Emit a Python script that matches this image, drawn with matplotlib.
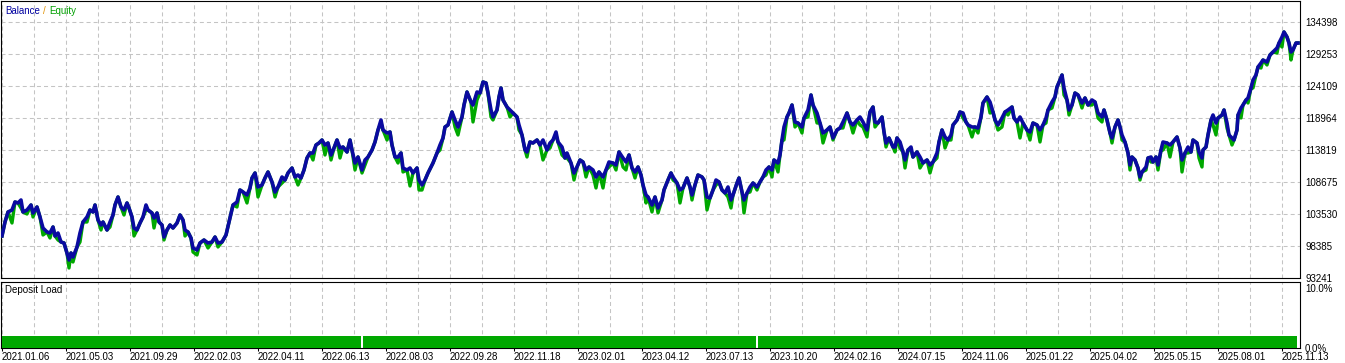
import numpy as np
import matplotlib.pyplot as plt

plt.rcParams['font.family'] = ['Liberation Sans', 'DejaVu Sans']
plt.rcParams['lines.scale_dashes'] = False

# deal number (x axis of the tester graph) and balance after each deal
deals = [
    0, 3, 6, 10, 13, 16, 19, 21, 25, 29, 31, 35, 38, 41, 45, 48, 51, 53, 56, 59,
    62, 65, 67, 69, 71, 75, 78, 81, 85, 88, 91, 93, 96, 99, 101, 105, 108, 111, 113, 116,
    119, 122, 125, 127, 130, 132, 135, 138, 141, 144, 146, 150, 152, 155, 157, 160, 162, 165, 168, 171,
    175, 178, 181, 183, 186, 189, 191, 195, 198, 202, 206, 210, 213, 216, 220, 224, 227,
    231, 235, 238, 241, 245, 248, 250, 253, 256, 260, 263, 266, 270, 273, 276, 280, 283, 286, 290, 293,
    296, 299, 302, 305, 308, 311, 314, 317, 320, 323, 326, 329, 332, 335, 338, 341, 345, 348, 350, 353,
    356, 360, 363, 366, 370, 373, 376, 379, 381, 385, 388, 390, 393, 396, 399, 401, 405, 408, 411, 415,
    417, 420, 423, 426,
    431, 435, 438, 441, 443, 446, 450, 453, 456, 460, 462, 465, 469, 471, 475, 478, 481, 484, 486, 489,
    491, 495, 497, 499, 501, 505, 508, 511, 515, 517, 520, 523, 525, 528, 531, 535, 538, 541, 545, 548,
    551, 554, 556, 560, 563, 565, 569, 572, 575, 578, 581, 584, 587, 591, 594, 597, 601, 604, 607, 611,
    614, 617, 621, 624, 627, 630, 633, 636, 639, 641, 644,
    646, 650, 653, 656, 660, 662, 666, 669, 671, 675, 678, 681, 685, 688, 690, 693, 696, 700, 702, 705,
    708, 711, 714, 717, 720, 723, 726, 729, 731, 735, 737, 740, 742, 745, 748, 751, 755, 758, 761, 764,
    767, 770, 772, 776, 778, 780, 782, 785, 787, 790, 793, 796, 800, 802, 806, 809, 811, 815, 818, 821,
    825, 828, 831, 835, 838, 841, 845, 848, 851, 855, 858,
    861, 865, 868, 871, 873, 876, 880, 882, 884, 887, 891, 893, 895, 898, 901, 903, 906, 909, 911, 915,
    918, 921, 925, 928, 931, 935, 937, 940, 943, 946, 949, 951, 955, 958, 961, 964, 966, 970, 973, 976,
    979, 981, 985, 988, 991, 993, 996, 1000, 1003, 1006, 1010, 1012, 1015, 1018, 1021, 1025, 1028, 1031, 1035, 1038,
    1041, 1044, 1046, 1050, 1053, 1055, 1058, 1060, 1062, 1065, 1067, 1070, 1073,
    1076, 1080, 1083, 1086, 1090, 1093, 1096, 1100, 1102, 1105, 1108, 1110, 1113, 1116, 1118, 1120, 1123, 1126, 1128, 1130,
    1133, 1136, 1138, 1140, 1144, 1146, 1149, 1151, 1154, 1156, 1159, 1161, 1165, 1168, 1171, 1175, 1178, 1180, 1183, 1186,
    1189, 1191, 1195, 1197, 1200, 1201, 1204, 1206, 1209, 1211, 1214, 1216, 1220, 1222, 1225, 1227, 1230, 1232, 1235, 1236,
    1239, 1241, 1244, 1246, 1249, 1251, 1254, 1256, 1259, 1261, 1265, 1268, 1271, 1275, 1277, 1280, 1282, 1285, 1287, 1289,
    1291, 1294, 1296,
]
balance = [
    100000, 102244, 103852, 104173, 105459, 105299, 105781, 103852, 104173, 104977,
    103691, 104656, 103048, 101279, 100636, 100476, 101440, 99993, 100476, 99029,
    98868, 97260, 96135, 97260, 96617, 98225, 100476, 102244, 103048, 104173,
    103852, 104977, 102566, 101762, 102244, 100958, 102244, 103369, 104977, 106263,
    104656, 104173, 105299, 104495, 103048, 101279, 100958, 102083, 103048, 104977,
    104173, 103691, 102887, 103691, 102244, 101762, 99832, 100958, 101762, 101279,
    102083, 103369, 102566, 100958, 100636, 99672, 98064, 97742, 98868, 99350,
    98868, 99029, 99832, 98868, 99029, 100154, 102244,
    104977, 105459, 107389, 107067, 106585, 107710, 109318, 110122, 107871, 108193,
    109318, 110283, 108675, 107067, 107871, 109479, 108996, 110122, 110926, 109479,
    109800, 109318, 110604, 112533, 113337, 113337, 114623, 114945, 115427, 114623,
    114945, 113016, 114141, 115427, 114141, 114302, 113498, 115427, 113819, 111730,
    112694, 110604, 112212, 112694, 113819, 115106, 117035, 118643, 117035, 116553,
    116713, 114623, 112694, 112694, 113337, 110926, 110604, 110926, 110122, 110926,
    108996, 108193, 108996, 110122,
    111730, 113337, 114623, 115749, 117517, 117839, 119929, 118643, 117517, 119125,
    121054, 123144, 121536, 121054, 123144, 122983, 124752, 124591, 122983, 120250,
    119125, 120250, 122340, 123787, 121858, 120733, 120250, 119768, 119125, 117839,
    116231, 113819, 113498, 115106, 114945, 115427, 114623, 115427, 113819, 114945,
    115427, 116713, 115106, 114302, 112533, 113337, 111730, 110122, 111086, 112212,
    111890, 110604, 111086, 110604, 109479, 110283, 109479, 110604, 111890, 111730,
    111408, 113498, 112533, 111890, 113016, 110926, 110283, 111086, 109800, 108193, 106585,
    106263, 104977, 106263, 104495, 105781, 107389, 108996, 110122, 109479, 108514,
    107389, 107710, 109318, 107871, 106585, 108193, 109800, 109479, 108996, 106263,
    106103, 107389, 108996, 108675, 107389, 106906, 107871, 105781, 106585, 108514,
    109318, 107067, 105781, 106906, 107871, 108514, 107871, 108675, 109479, 110604,
    111086, 110604, 112212, 111730, 113016, 115427, 117517, 119125, 119768, 121054,
    118321, 118160, 117517, 118964, 120250, 122662, 121054, 119768, 118160, 116553,
    117035, 117517, 115749, 117035, 117356, 118321, 119768, 118321, 117839, 118643, 119125,
    118321, 117035, 119929, 120733, 118321, 118160, 119125, 116713, 114945, 115749,
    114302, 114302, 115749, 115106, 113498, 112212, 113819, 114302, 112694, 113498,
    112694, 111730, 112212, 111408, 111890, 113337, 115106, 117035, 115910, 115427,
    116231, 117839, 118643, 119929, 119768, 118321, 117839, 117517, 117517, 117356,
    119125, 121376, 122340, 121536, 119929, 118643, 117839, 118964, 119929, 120250,
    120733, 118964, 118321, 119125, 118160, 117035, 116713, 118160, 117839, 117035,
    117839, 118964, 120250, 121536, 122340, 123948, 125073, 125877, 123787, 121858,
    120250, 121054, 122983,
    122662, 121376, 122180, 121054, 121858, 121536, 119768, 119125, 120250, 118643,
    116553, 115749, 117517, 118643, 117517, 116231, 115106, 113337, 111408, 112694,
    112212, 110926, 109479, 110283, 111086, 112533, 112694, 111890, 112694, 111408,
    113819, 115106, 114945, 114623, 115106, 115910, 114141, 112212, 113337, 114302,
    113498, 115427, 114945, 113498, 112533, 113819, 114302, 116231, 118643, 119446,
    118160, 118964, 119446, 120250, 118160, 116231, 115749, 115427, 117035, 119446,
    120572, 121054, 121858, 122180, 123787, 125073, 125877, 127163, 127807, 128289,
    127967, 129093, 129575, 130218, 131022, 131987, 132790, 131987, 131022, 129575,
    129897, 131022, 131022,
]

# deals where equity dipped below balance, and the equity low there
eq_deals = [
    10, 19, 25, 31, 41, 48, 56, 67, 71, 78, 85, 99, 108, 122, 132, 144, 152, 162, 183, 191, 195, 206, 216,
    235, 245, 256, 273, 280, 296, 311, 323, 329, 338, 353, 360, 363, 379, 385, 396, 401, 408, 417, 420,
    438, 453, 456, 471, 475, 489, 491, 508, 517, 525, 541, 548, 554, 560, 565, 572, 584, 591, 594, 601,
    607, 614, 621, 624, 633, 644,
    650, 656, 671, 678, 690, 705, 714, 726, 729, 742, 748, 755, 764, 770, 776, 782, 793, 800, 806, 815,
    821, 831, 841, 851, 858,
    861, 865, 873, 884, 893, 898, 903, 909, 918, 928, 935, 943, 949, 961, 970, 976, 988, 996, 1000, 1006,
    1018, 1028, 1038, 1044, 1050, 1062, 1067,
    1080, 1090, 1096, 1100, 1110, 1120, 1128, 1138, 1144, 1149, 1156, 1161, 1168, 1180, 1186, 1197, 1200,
    1211, 1214, 1225, 1230, 1239, 1246, 1251, 1259, 1265, 1275, 1280, 1289,
]
eq_lows = [
    102083, 104495, 103530, 103048, 100154, 99672, 99350, 94849, 95813, 99029, 102244, 100958, 101440,
    103369, 99993, 104173, 101279, 99350, 99993, 97421, 96939, 98064, 98225,
    104656, 105299, 106263, 106263, 108514, 108193, 112212, 113016, 112212, 112533, 110604, 110122,
    111408, 118160, 115427, 111730, 110283, 108032, 107389, 107389,
    113819, 117517, 116231, 118321, 121858, 119125, 118643, 119125, 117035, 112694, 112212, 114141,
    116231, 113016, 112533, 108996, 109479, 109800, 107710, 107710, 111086, 110604, 111086, 110604,
    109318, 105299,
    103852, 103691, 108996, 105299, 105781, 104173, 108193, 106263, 104495, 103691, 107067, 107389,
    109800, 109479, 110283, 115427, 117517, 116553, 119125, 118160, 114945, 115427, 117356, 116553, 117839,
    117517, 115910, 117517, 114302, 113498, 114141, 110926, 113819, 110926, 110122, 112533, 114141,
    115427, 118964, 115910, 116553, 119768, 117035, 117517, 119446, 115749, 115427, 115106, 118160,
    120572, 122662, 119446,
    120572, 121054, 118964, 118321, 114945, 115427, 110604, 108996, 110604, 111890, 110604, 113819,
    112694, 110283, 113337, 112533, 111086, 117839, 116231, 117356, 114623, 118964, 121376, 123787,
    127003, 127485, 129414, 130379, 128289,
]

y_levels = [93241, 98385, 103530, 108675, 113819, 118964, 124109, 129253, 134398]
date_labels = [
    "2021.01.06", "2021.05.03", "2021.09.29", "2022.02.03", "2022.04.11", "2022.06.13",
    "2022.08.03", "2022.09.28", "2022.11.18", "2023.02.01", "2023.04.12", "2023.07.13",
    "2023.10.20", "2024.02.16", "2024.07.15", "2024.11.06", "2025.01.22", "2025.04.02",
    "2025.05.15", "2025.08.01", "2025.11.13",
]

# deposit load blocks (start deal, end deal, percent)
load_start = [0, 361, 756]
load_end = [359, 754, 1295]
load_pct = [2.0, 2.0, 2.0]

W, H = 1345, 363
BLUE = "#0A0AA0"
GREEN = "#00A800"
GRID = "#c4c4c4"
FS = 7.0

equity = np.array(balance, dtype=float)
pos = {d: i for i, d in enumerate(deals)}
for d, v in zip(eq_deals, eq_lows):
    equity[pos[d]] = v

fig = plt.figure(figsize=(W / 100, H / 100), dpi=100)
ax = fig.add_axes([1 / W, 85 / H, 1299 / W, 277 / H])
ax2 = fig.add_axes([1 / W, 15 / H, 1299 / W, 66 / H])

ax.plot(deals, equity, color=GREEN, lw=2.4, zorder=3)
ax.plot(deals, balance, color=BLUE, lw=2.6, zorder=4)

ax2.bar(load_start, load_pct, width=np.subtract(load_end, load_start), align="edge",
        color=GREEN, linewidth=0, zorder=3)

major = list(range(0, 1281, 64))
minor = list(range(32, 1298, 64))
dash = (0, (2.9, 2.2))
for a in (ax, ax2):
    a.set_xlim(-1, 1298)
    a.set_xticks(major)
    a.set_xticks(minor, minor=True)
    a.grid(True, which="both", axis="x", color=GRID, linewidth=0.75, linestyle=dash, zorder=1)
    a.yaxis.tick_right()
    a.tick_params(axis="y", length=0, pad=3.6, labelsize=FS, colors="black")
    a.tick_params(axis="x", which="minor", length=0)
    for s in a.spines.values():
        s.set_linewidth(0.8)
        s.set_color("black")

ax.set_ylim(93241, 137774)
ax.set_yticks(y_levels)
ax.set_yticklabels([str(v) for v in y_levels])
ax.grid(True, axis="y", color=GRID, linewidth=0.75, linestyle=dash, zorder=1)
ax.tick_params(axis="x", which="major", length=0, labelbottom=False)

ax2.set_ylim(0, 11)
ax2.set_yticks([0, 10])
ax2.set_yticklabels(["0.0%", "10.0%"])
ax2.set_xticklabels(date_labels)
ax2.tick_params(axis="x", which="major", length=2.2, width=0.75, pad=0.5, labelsize=FS)
for lbl in ax2.get_xticklabels():
    lbl.set_ha("left")

fig.text(5 / W, 1 - 11 / H, "Balance", color="#0000A0", fontsize=FS, va="center")
fig.text(43 / W, 1 - 11 / H, "/", color="#E09000", fontsize=FS, va="center")
fig.text(49 / W, 1 - 11 / H, "Equity", color="#00A000", fontsize=FS, va="center")
fig.text(5 / W, 1 - 290 / H, "Deposit Load", color="black", fontsize=FS, va="center")

fig.savefig("out.png", dpi=100)
